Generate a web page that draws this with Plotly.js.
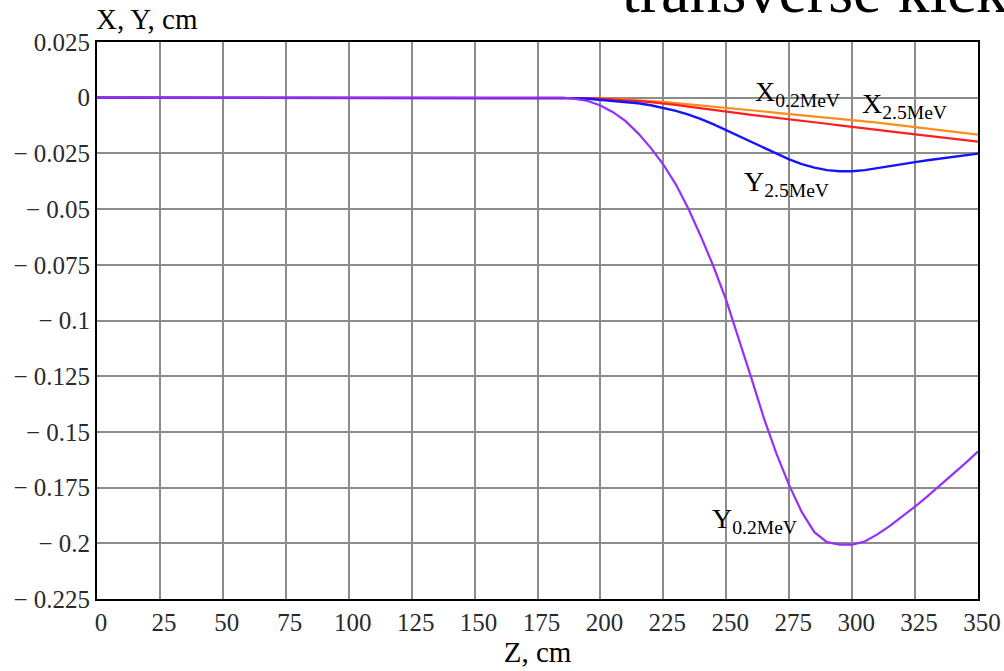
<!DOCTYPE html>
<html>
<head>
<meta charset="utf-8">
<script src="https://cdn.plot.ly/plotly-3.0.1.min.js"></script>
<style>html,body{margin:0;padding:0;background:#fff;}#chart{width:1004px;height:671px;}</style>
</head>
<body>
<div id="chart"></div>
<script>
// Z positions, cm
const zValues = [0, 180, 185, 190, 195, 200, 205, 210, 215, 220, 225, 230, 235, 240, 245, 250, 255, 260, 265, 270, 275, 280, 285, 290, 295, 300, 305, 310, 315, 320, 325, 330, 335, 340, 345, 350];
// Y for 0.2 MeV (purple)
const y02 = [0, 0, 0, -0.0005, -0.0015, -0.0035, -0.0065, -0.0105, -0.016, -0.0225, -0.030, -0.039, -0.050, -0.0625, -0.076, -0.091, -0.108, -0.126, -0.144, -0.160, -0.174, -0.186, -0.195, -0.1995, -0.2006, -0.2006, -0.1992, -0.1960, -0.1922, -0.1880, -0.1835, -0.1788, -0.1740, -0.1690, -0.1640, -0.1588];
// Y for 2.5 MeV (blue)
const y25 = [0, 0, 0, -0.0002, -0.0005, -0.0010, -0.0013, -0.0018, -0.0025, -0.0034, -0.0045, -0.0059, -0.0076, -0.0096, -0.0120, -0.0146, -0.0173, -0.0200, -0.0226, -0.0252, -0.0277, -0.0298, -0.0314, -0.0325, -0.0330, -0.0330, -0.0325, -0.0316, -0.0306, -0.0297, -0.0289, -0.0281, -0.0273, -0.0265, -0.0258, -0.0251];
// X for 0.2 MeV (red)
const x02 = [0, 0, 0, -0.0001, -0.0002, -0.0004, -0.0007, -0.0010, -0.0015, -0.0020, -0.0025, -0.0032, -0.0040, -0.0048, -0.0056, -0.0063, -0.0070, -0.0077, -0.0084, -0.0090, -0.0097, -0.0104, -0.0110, -0.0117, -0.0124, -0.0130, -0.0137, -0.0144, -0.0151, -0.0158, -0.0165, -0.0171, -0.0178, -0.0184, -0.0191, -0.0197];
// X for 2.5 MeV (orange)
const x25 = [0, 0, 0, 0, -0.0001, -0.0002, -0.0005, -0.0008, -0.0011, -0.0015, -0.0019, -0.0024, -0.0029, -0.0034, -0.0040, -0.0045, -0.0051, -0.0057, -0.0062, -0.0068, -0.0073, -0.0078, -0.0083, -0.0089, -0.0094, -0.0099, -0.0106, -0.0112, -0.0119, -0.0126, -0.0132, -0.0139, -0.0146, -0.0152, -0.0159, -0.0166];

const xTickVals = [0, 25, 50, 75, 100, 125, 150, 175, 200, 225, 250, 275, 300, 325, 350];
const yTickVals = [0.025, 0, -0.025, -0.05, -0.075, -0.1, -0.125, -0.15, -0.175, -0.2, -0.225];
const yTickText = ['0.025', '0', '\u2212 0.025', '\u2212 0.05', '\u2212 0.075', '\u2212 0.1', '\u2212 0.125', '\u2212 0.15', '\u2212 0.175', '\u2212 0.2', '\u2212 0.225'];

const serif = 'Liberation Serif, Times New Roman, serif';

const traces = [
  {x: zValues, y: x25, mode: 'lines', line: {color: '#ff8c1a', width: 2.2}, name: 'X 2.5MeV'},
  {x: zValues, y: x02, mode: 'lines', line: {color: '#ff1f1f', width: 2.2}, name: 'X 0.2MeV'},
  {x: zValues, y: y25, mode: 'lines', line: {color: '#1414ff', width: 2.4}, name: 'Y 2.5MeV'},
  {x: zValues, y: y02, mode: 'lines', line: {color: '#9430ff', width: 2.2}, name: 'Y 0.2MeV'}
];

const labelFont = {family: serif, size: 28, color: '#000'};
const layout = {
  width: 1004, height: 671,
  margin: {l: 97, r: 26, t: 42, b: 72},
  paper_bgcolor: '#fff', plot_bgcolor: '#fff',
  showlegend: false,
  xaxis: {
    range: [0, 350], tickvals: xTickVals, ticks: '',
    showgrid: true, gridcolor: '#8c8c8c', gridwidth: 2,
    zeroline: false, showline: true, linecolor: '#000', linewidth: 2, mirror: true,
    tickfont: {family: serif, size: 25, color: '#2a2a2a'},
    ticklabelshift: 4,
    title: {text: 'Z, cm', font: {family: serif, size: 29, color: '#000'}, standoff: 4}
  },
  yaxis: {
    range: [-0.225, 0.025], tickvals: yTickVals, ticktext: yTickText, ticks: '',
    showgrid: true, gridcolor: '#8c8c8c', gridwidth: 2,
    zeroline: false, showline: true, linecolor: '#000', linewidth: 2, mirror: true,
    tickfont: {family: serif, size: 25, color: '#2a2a2a'}
  },
  annotations: [
    {xref: 'paper', yref: 'paper', x: -0.003, y: 1.0, xanchor: 'left', yanchor: 'bottom',
     text: 'X, Y, cm', showarrow: false, font: {family: serif, size: 29, color: '#000'}, yshift: 5},
    {xref: 'paper', yref: 'paper', x: (620 - 97) / 881, y: 1.0, xanchor: 'left', yanchor: 'bottom',
     text: 'transverse kick', showarrow: false, font: {family: serif, size: 64, color: '#000'}, yshift: 14},
    {xref: 'x', yref: 'y', x: 260.6, y: -0.0022, xanchor: 'left', yanchor: 'bottom', showarrow: false,
     text: 'X<sub>0.2MeV</sub>', font: labelFont, yshift: -10},
    {xref: 'x', yref: 'y', x: 303, y: -0.0076, xanchor: 'left', yanchor: 'bottom', showarrow: false,
     text: 'X<sub>2.5MeV</sub>', font: labelFont, yshift: -10},
    {xref: 'x', yref: 'y', x: 256.3, y: -0.0426, xanchor: 'left', yanchor: 'bottom', showarrow: false,
     text: 'Y<sub>2.5MeV</sub>', font: labelFont, yshift: -10},
    {xref: 'x', yref: 'y', x: 243.5, y: -0.1939, xanchor: 'left', yanchor: 'bottom', showarrow: false,
     text: 'Y<sub>0.2MeV</sub>', font: labelFont, yshift: -10}
  ]
};

Plotly.newPlot('chart', traces, layout, {displayModeBar: false, staticPlot: true});
</script>
</body>
</html>
